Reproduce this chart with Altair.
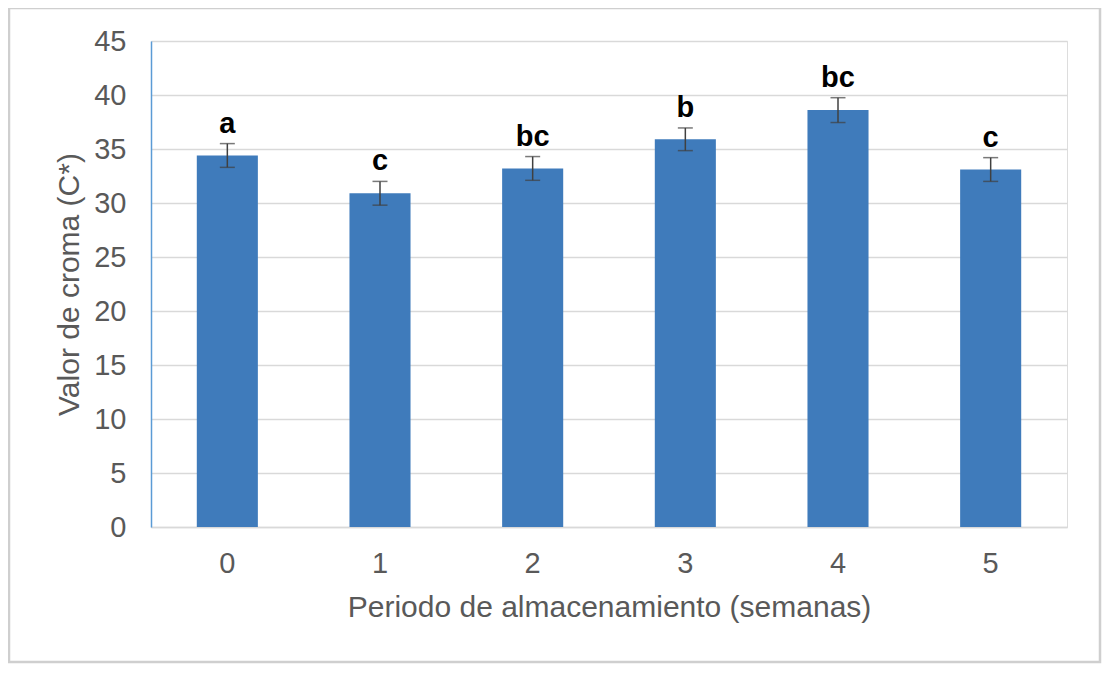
import altair as alt
import pandas as pd

weeks = ["0", "1", "2", "3", "4", "5"]
values = [34.4, 30.9, 33.2, 35.9, 38.6, 33.1]
errors = [1.1, 1.1, 1.1, 1.05, 1.15, 1.1]
letters = ["a", "c", "bc", "b", "bc", "c"]

df = pd.DataFrame({"week": weeks, "value": values, "err": errors, "letter": letters})

FONT = "Liberation Sans"

x_enc = alt.X(
    "week:N",
    sort=weeks,
    scale=alt.Scale(paddingInner=0.6, paddingOuter=0.3),
    axis=alt.Axis(
        title="Periodo de almacenamiento (semanas)",
        labelAngle=0,
        ticks=False,
        domainColor="#d9d9d9",
        domainWidth=1.5,
        labelFont=FONT,
        labelFontSize=29,
        labelColor="#595959",
        labelPadding=22,
        titleFont=FONT,
        titleFontSize=30,
        titleFontWeight="normal",
        titleColor="#595959",
        titlePadding=14,
        grid=False,
    ),
)

y_scale = alt.Scale(domain=[0, 45], nice=False)

base = alt.Chart(df).transform_calculate(
    lo="datum.value - datum.err", hi="datum.value + datum.err"
)

bars = base.mark_bar(color="#3f7bbb").encode(
    x=x_enc,
    y=alt.Y(
        "value:Q",
        scale=y_scale,
        axis=alt.Axis(
            title="Valor de croma (C*)",
            values=list(range(0, 46, 5)),
            ticks=False,
            domainColor="#5b9bd5",
            domainWidth=1.5,
            gridColor="#d9d9d9",
            gridWidth=1.5,
            labelFont=FONT,
            labelFontSize=29,
            labelColor="#595959",
            labelPadding=25,
            titleFont=FONT,
            titleFontSize=30,
            titleFontWeight="normal",
            titleColor="#595959",
            titlePadding=9,
        ),
    ),
)

rules = base.mark_rule(color="#404040", strokeWidth=1.5).encode(
    x=alt.X("week:N", sort=weeks),
    y=alt.Y("lo:Q", scale=y_scale),
    y2="hi:Q",
)

caps_hi = base.mark_tick(color="#404040", thickness=1.5, size=15, orient="horizontal").encode(
    x=alt.X("week:N", sort=weeks),
    y=alt.Y("hi:Q", scale=y_scale),
)
caps_lo = base.mark_tick(color="#404040", thickness=1.5, size=15, orient="horizontal").encode(
    x=alt.X("week:N", sort=weeks),
    y=alt.Y("lo:Q", scale=y_scale),
)

labels = base.mark_text(
    font=FONT, fontSize=29, fontWeight="bold", color="#000000", baseline="bottom", dy=-5
).encode(
    x=alt.X("week:N", sort=weeks),
    y=alt.Y("hi:Q", scale=y_scale),
    text="letter:N",
)

border = alt.Chart(pd.DataFrame({"k": [0]})).mark_rect(
    fillOpacity=0, stroke="#cfcfcf", strokeWidth=2.5
).encode(
    x=alt.value(-142), x2=alt.value(949), y=alt.value(-33), y2=alt.value(621)
)

chart = alt.layer(border, bars, rules, caps_hi, caps_lo, labels).properties(
    width=916,
    height=486,
    padding={"left": 143, "top": 33, "right": 36, "bottom": 140},
    autosize=alt.AutoSizeParams(type="none"),
).configure_view(stroke=None).configure(background="white")

chart.save("out.html", embed_options={"renderer": "svg", "actions": False})
